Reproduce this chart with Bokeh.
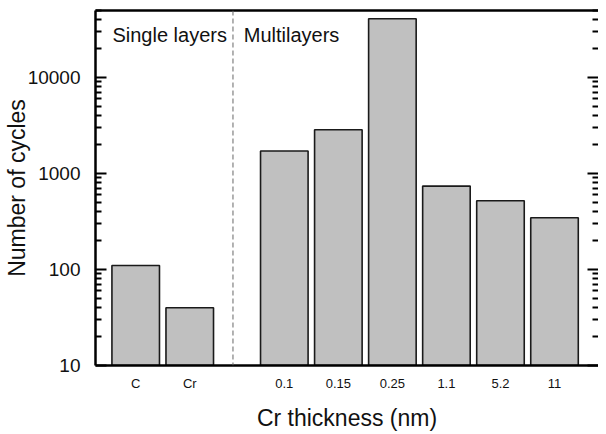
from bokeh.plotting import figure
from bokeh.models import (FixedTicker, LogAxis, LinearAxis, Span, Label,
                          NumeralTickFormatter, ColumnDataSource, Range1d)
from bokeh.embed import file_html
from bokeh.resources import INLINE

# ---- data ----
single_labels = ["C", "Cr"]
single_cycles = [110, 40]
multi_labels = ["0.1", "0.15", "0.25", "1.1", "5.2", "11"]
multi_cycles = [1720, 2860, 41000, 740, 520, 346]
y_tick_values = [10, 100, 1000, 10000]

# ---- layout helpers ----
GAP = 0.75  # extra space between the two groups (in bar slots)
x_single = [i + 0.5 for i in range(len(single_labels))]
x_multi = [len(single_labels) + GAP + j + 0.5 for j in range(len(multi_labels))]
xs = x_single + x_multi
labels = single_labels + multi_labels
cycles = single_cycles + multi_cycles

FONT = "Liberation Sans"
Y_TOP = 50000

p = figure(width=598, height=433, y_axis_type="log",
           x_range=Range1d(-0.244, 9.064), y_range=Range1d(10, Y_TOP),
           output_backend="svg", toolbar_location=None,
           min_border_left=94, min_border_right=0, min_border_top=10,
           min_border_bottom=60)
p.outline_line_color = None
p.grid.visible = False
p.background_fill_color = "white"

src = ColumnDataSource(dict(x=xs, top=cycles))
p.vbar(x="x", top="top", bottom=10, width=0.88, source=src,
       fill_color="#c0c0c0", line_color="#1a1a1a", line_width=1.6)

minor = [m * 10 ** k for k in range(1, 5) for m in range(2, 10)]

# bottom axis
xa = p.below[0]
xa.ticker = FixedTicker(ticks=xs)
xa.major_label_overrides = {x: l for x, l in zip(xs, labels)}
xa.axis_line_width = 2.5
xa.major_tick_line_color = None
xa.minor_tick_line_color = None
xa.major_label_standoff = 4
xa.major_label_text_font = FONT
xa.major_label_text_font_size = "13px"
xa.major_label_text_color = "#111111"
xa.axis_label = "Cr thickness (nm)"
xa.axis_label_text_font = FONT
xa.axis_label_text_font_style = "normal"
xa.axis_label_text_font_size = "23px"
xa.axis_label_text_color = "#111111"
xa.axis_label_standoff = 11

# left axis
ya = p.left[0]
ya.ticker = FixedTicker(ticks=y_tick_values, minor_ticks=minor)
ya.formatter = NumeralTickFormatter(format="0")
ya.axis_line_width = 2.5
ya.major_tick_in = 11
ya.major_tick_out = 0
ya.minor_tick_in = 6
ya.minor_tick_out = 0
ya.major_tick_line_width = 2
ya.minor_tick_line_width = 2
ya.major_label_standoff = 15
ya.major_label_text_font = FONT
ya.major_label_text_font_size = "19px"
ya.major_label_text_color = "#111111"
ya.axis_label = "Number of cycles"
ya.axis_label_text_font = FONT
ya.axis_label_text_font_style = "normal"
ya.axis_label_text_font_size = "23px"
ya.axis_label_text_color = "#111111"
ya.axis_label_standoff = -5

# right axis (ticks only)
ra = LogAxis(ticker=FixedTicker(ticks=y_tick_values, minor_ticks=minor))
ra.axis_line_color = None
ra.major_tick_in = 11
ra.major_tick_out = 0
ra.minor_tick_in = 6
ra.minor_tick_out = 0
ra.major_tick_line_width = 2
ra.minor_tick_line_width = 2
ra.major_label_overrides = {t: " " for t in y_tick_values}
ra.major_label_text_font_size = "1px"
ra.major_label_text_color = None
ra.major_label_standoff = -7
p.add_layout(ra, "right")

# top border line (axis line only)
ta = LinearAxis(ticker=FixedTicker(ticks=[x_single[0]]))
ta.axis_line_width = 2.5
ta.major_tick_line_color = None
ta.minor_tick_line_color = None
ta.major_label_overrides = {x_single[0]: " "}
ta.major_label_text_font_size = "1px"
ta.major_label_text_color = None
ta.major_label_standoff = 0
p.add_layout(ta, "above")

# group divider
p.add_layout(Span(location=len(single_labels) + 0.4 * GAP, dimension="height",
                  line_color="#666666", line_width=1, line_dash="5 3"))

p.add_layout(Label(x=x_single[0] - 0.43, y=28000, text="Single layers",
                   text_font=FONT, text_font_size="20px", text_color="#111111",
                   text_baseline="alphabetic"))
p.add_layout(Label(x=x_multi[0] - 0.75, y=28000, text="Multilayers",
                   text_font=FONT, text_font_size="20px", text_color="#111111",
                   text_baseline="alphabetic"))

open("out.html", "w").write(file_html(p, INLINE))
